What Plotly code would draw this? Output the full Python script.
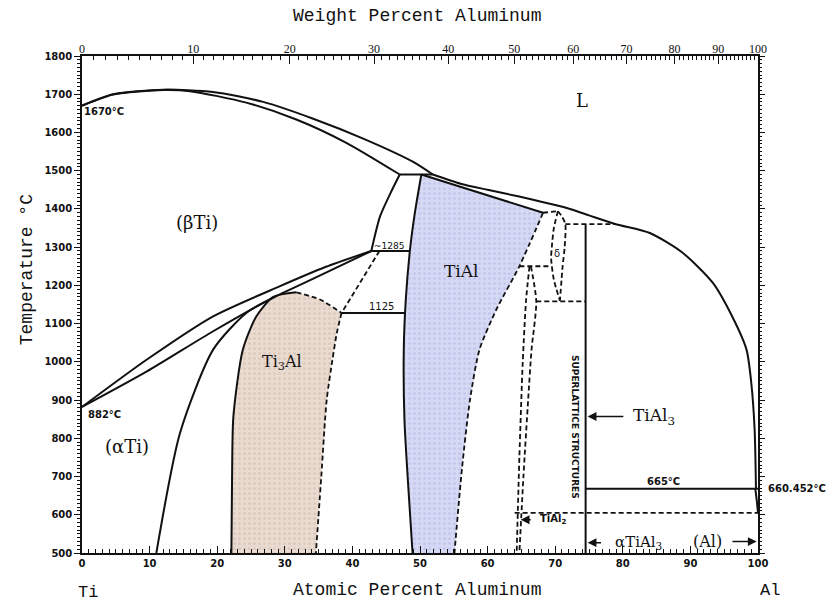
import plotly.graph_objects as go

# ---------------- data (atomic % Al, temperature °C) ----------------
liq_left_x = [0, 4.6, 12, 19.4, 26.8, 34.2, 41.6, 49.0, 51.9]
liq_left_t = [1670, 1700, 1712, 1706, 1680, 1636, 1584, 1523, 1490]

beta_sol_x = [0, 4.6, 12, 16, 24.3, 31.7, 39.1, 47.0]
beta_sol_t = [1670, 1699, 1711, 1708, 1678, 1634, 1573, 1490]

peri1490_x = [47.0, 51.9]
peri1490_t = [1490, 1490]

beta_bnd_x = [47.0, 45.6, 44.1, 42.8]
beta_bnd_t = [1490, 1440, 1381, 1290]

tial_left_x = [50.2, 49.2, 48.5, 47.9, 47.6, 47.7, 48.2, 48.9]
tial_left_t = [1490, 1385, 1290, 1163, 1032, 849, 692, 500]

tial_top_x = [50.2, 68.2]
tial_top_t = [1490, 1390]

tial_right_x = [68.2, 64.7, 61.3, 58.8, 57.4, 56.2, 55.1]
tial_right_t = [1390, 1250, 1137, 1032, 901, 719, 500]

liq_right_x = [51.9, 56, 60, 64.5, 68.4, 71.6, 75, 79, 84, 88.8, 93.3, 96.2, 98.3, 99.0, 99.5, 99.7]
liq_right_t = [1490, 1466, 1450, 1433, 1417, 1403, 1383, 1360, 1337, 1286, 1207, 1118, 1032, 946, 823, 668]

beta_transus_x = [0, 9.6, 19.4, 29.3, 36.0, 42.8]
beta_transus_t = [882, 1006, 1119, 1198, 1248, 1290]

alpha_transus_x = [0, 9.6, 19.4, 28.3, 35.0, 42.8]
alpha_transus_t = [882, 975, 1080, 1168, 1224, 1290]

alpha2_bnd_x = [11.0, 14.5, 19.4, 24.3, 28.3]
alpha2_bnd_t = [500, 814, 1032, 1128, 1168]

ti3al_left_x = [22.1, 22.2, 22.4, 23.8, 25.8, 28.3, 31.7]
ti3al_left_t = [500, 700, 858, 1032, 1119, 1170, 1182]

ti3al_top_x = [31.7, 35.2, 38.4]
ti3al_top_t = [1182, 1163, 1128]

ti3al_right_x = [38.4, 37.7, 37.0, 36.2, 35.4, 34.6]
ti3al_right_t = [1128, 1076, 1000, 901, 700, 500]

eut_dash_x = [44.0, 38.4]
eut_dash_t = [1290, 1128]

line1125_x = [38.4, 47.7]
line1125_t = [1128, 1128]

line1285_x = [42.8, 48.5]
line1285_t = [1290, 1290]

line1390_x = [68.2, 70.4]
line1390_t = [1390, 1394]

delta_left_x = [70.4, 69.8, 69.5, 69.4, 69.8, 70.7]
delta_left_t = [1394, 1350, 1300, 1270, 1215, 1160]

delta_right_x = [70.4, 71.0, 71.5, 71.4, 71.1, 70.7]
delta_right_t = [1394, 1380, 1360, 1300, 1250, 1160]

line1360_x = [71.5, 79.0]
line1360_t = [1360, 1360]

line1250_x = [64.7, 69.4]
line1250_t = [1250, 1250]

tial2_left_x = [66.2, 65.7, 65.2, 64.7, 64.3]
tial2_left_t = [1250, 1163, 1000, 750, 500]

tial2_right_x = [66.4, 67.2, 66.5, 66.0, 65.3, 64.7]
tial2_right_t = [1250, 1158, 1032, 901, 700, 500]

line1158_x = [67.2, 74.5]
line1158_t = [1158, 1158]

tial3_x = [74.5, 74.5]
tial3_t = [1360, 500]

line665_x = [74.5, 100]
line665_t = [668, 668]

line605_x = [64.0, 100]
line605_t = [605, 605]

al_solvus_x = [99.6, 99.8, 100]
al_solvus_t = [668, 640, 605]

at_ticks = list(range(0, 101, 10))
wt_ticks = [0, 10, 20, 30, 40, 50, 60, 70, 80, 90, 100]
wt_minor = [w for w in range(1, 100) if w % 10 != 0]

M_AL, M_TI = 26.98, 47.87


def wt_to_at(w):
    a = w / M_AL
    b = (100 - w) / M_TI
    return 100 * a / (a + b)


fig = go.Figure()

INK = "#111111"
DASH = "5px,3px"

# ---------- shaded single-phase fields ----------
tial_poly_x = tial_left_x + tial_right_x[::-1] + [tial_left_x[0]]
tial_poly_t = tial_left_t + tial_right_t[::-1] + [tial_left_t[0]]
fig.add_trace(go.Scatter(x=tial_poly_x, y=tial_poly_t, mode="lines", fill="toself",
                         fillcolor="#d3d6f3", line=dict(width=0),
                         hoverinfo="skip",
                         fillpattern=dict(shape=".", fgcolor="#b4b8e6", bgcolor="#d6d9f4",
                                          size=5, solidity=0.3),
                         showlegend=False))

ti3_poly_x = ti3al_left_x + ti3al_top_x[1:] + ti3al_right_x[1:] + [ti3al_left_x[0]]
ti3_poly_t = ti3al_left_t + ti3al_top_t[1:] + ti3al_right_t[1:] + [ti3al_left_t[0]]
fig.add_trace(go.Scatter(x=ti3_poly_x, y=ti3_poly_t, mode="lines", fill="toself",
                         fillcolor="#e6d4c8", line=dict(width=0),
                         hoverinfo="skip",
                         fillpattern=dict(shape=".", fgcolor="#d2b8a8", bgcolor="#eadbd1",
                                          size=5, solidity=0.3),
                         showlegend=False))


def add_line(x, t, dash="solid", width=2.0):
    fig.add_trace(go.Scatter(x=x, y=t, mode="lines",
                             line=dict(color=INK, width=width, dash=dash,
                                       shape="spline", smoothing=0.7),
                             hoverinfo="skip", showlegend=False, cliponaxis=False))


solid = [
    (liq_left_x, liq_left_t), (beta_sol_x, beta_sol_t), (peri1490_x, peri1490_t),
    (beta_bnd_x, beta_bnd_t), (tial_left_x, tial_left_t), (tial_top_x, tial_top_t),
    (liq_right_x, liq_right_t), (beta_transus_x, beta_transus_t),
    (alpha_transus_x, alpha_transus_t), (alpha2_bnd_x, alpha2_bnd_t),
    (ti3al_left_x, ti3al_left_t), (line1125_x, line1125_t), (line1285_x, line1285_t),
    (tial3_x, tial3_t), (line665_x, line665_t), (al_solvus_x, al_solvus_t),
]
for x, t in solid:
    add_line(x, t)

dashed = [
    (ti3al_top_x, ti3al_top_t), (ti3al_right_x, ti3al_right_t), (eut_dash_x, eut_dash_t),
    (tial_right_x, tial_right_t), (line1390_x, line1390_t), (delta_left_x, delta_left_t),
    (delta_right_x, delta_right_t), (line1360_x, line1360_t), (line1250_x, line1250_t),
    (tial2_left_x, tial2_left_t), (tial2_right_x, tial2_right_t), (line1158_x, line1158_t),
    (line605_x, line605_t),
]
for x, t in dashed:
    add_line(x, t, dash=DASH, width=1.8)

# dummy traces so the extra axes render
fig.add_trace(go.Scatter(x=[0, 100], y=[500, 500], xaxis="x2", mode="markers",
                         marker=dict(opacity=0), hoverinfo="skip", showlegend=False))
fig.add_trace(go.Scatter(x=[0, 100], y=[500, 500], xaxis="x3", mode="markers",
                         marker=dict(opacity=0), hoverinfo="skip", showlegend=False))
fig.add_trace(go.Scatter(x=[0, 100], y=[500, 500], yaxis="y2", mode="markers",
                         marker=dict(opacity=0), hoverinfo="skip", showlegend=False))

SERIF = "DejaVu Serif"
MONO = "Liberation Mono"
SANS = "DejaVu Sans"

ann = []


def label(x, y, text, size, family=SERIF, xref="x", yref="y", **kw):
    d = dict(x=x, y=y, xref=xref, yref=yref, text=text, showarrow=False,
             xanchor="center", yanchor="middle",
             font=dict(family=family, size=size, color=INK))
    d.update(kw)
    ann.append(d)


# phase labels
label(73.9, 1683, "L", 18)
label(17.0, 1364, "(\u03b2Ti)", 18)
label(6.6, 779, "(\u03b1Ti)", 18)
label(56.2, 1237, "TiAl", 17)
label(29.6, 998, "Ti<sub>3</sub>Al", 16)
label(84.6, 857, "TiAl<sub>3</sub>", 17)
label(82.3, 527, "\u03b1TiAl<sub>3</sub>", 15)
label(92.6, 530, "(Al)", 16)
label(70.2, 1283, "\u03b4", 10, family=SANS)
label(69.6, 587, "<b>TiAl<sub>2</sub></b>", 10, family=SANS)
label(72.9, 830, "<b>SUPERLATTICE STRUCTURES</b>", 9, family=SANS, textangle=90)

# temperature notes
label(3.3, 1654, "<b>1670\u00b0C</b>", 10, family=SANS)
label(3.3, 862, "<b>882\u00b0C</b>", 10, family=SANS)
label(45.4, 1303, "~1285", 9, family=SANS)
label(44.3, 1146, "1125", 10, family=SANS)
label(86.0, 686, "<b>665\u00b0C</b>", 10, family=SANS)
label(1.012, 668, "<b>660.452\u00b0C</b>", 10, family=SANS, xref="paper", xanchor="left")


# arrows
def arrow(x_head, y_head, x_tail, y_tail):
    ann.append(dict(x=x_head, y=y_head, ax=x_tail, ay=y_tail, xref="x", yref="y",
                    axref="x", ayref="y", text="", showarrow=True, arrowhead=2,
                    arrowsize=1.1, arrowwidth=1.6, arrowcolor=INK))


arrow(74.8, 857, 80.3, 857)
arrow(74.8, 527, 77.0, 527)
arrow(99.8, 530, 96.0, 530)
arrow(64.9, 587, 66.6, 587)

# axis titles / end labels
label(0.496, -0.074, "Atomic Percent Aluminum", 18, family=MONO, xref="paper", yref="paper")
label(0.496, 1.08, "Weight Percent Aluminum", 18, family=MONO, xref="paper", yref="paper")
label(-0.082, 0.57, "Temperature \u00b0C", 18, family=MONO, xref="paper", yref="paper",
      textangle=-90)
label(0.009, -0.08, "Ti", 17, family=MONO, xref="paper", yref="paper")
label(1.018, -0.076, "Al", 17, family=MONO, xref="paper", yref="paper")

tick_font = dict(family=SANS, size=10, color=INK, weight="bold")

fig.update_layout(
    width=835, height=601,
    margin=dict(l=82, r=77, t=56, b=48),
    paper_bgcolor="white", plot_bgcolor="white",
    annotations=ann,
    xaxis=dict(range=[0, 100], tickvals=at_ticks, ticks="inside", ticklen=7, tickwidth=1.2,
               tickcolor=INK, showline=True, linecolor=INK, linewidth=1.5, mirror=True,
               showgrid=False, zeroline=False, tickfont=tick_font,
               minor=dict(dtick=1, ticks="inside", ticklen=4, tickcolor=INK, tickwidth=1)),
    yaxis=dict(range=[500, 1800], dtick=100, ticks="outside", ticklen=6, tickwidth=1.2,
               tickcolor=INK, showline=True, linecolor=INK, linewidth=1.5, mirror=True,
               showgrid=False, zeroline=False, tickfont=tick_font,
               minor=dict(dtick=10, ticks="outside", ticklen=3, tickcolor=INK, tickwidth=1)),
    yaxis2=dict(overlaying="y", side="right", anchor="x", range=[500, 1800], dtick=100,
                ticks="outside", ticklen=6, tickwidth=1.2, tickcolor=INK,
                showticklabels=False, showline=False, showgrid=False, zeroline=False,
                minor=dict(dtick=10, ticks="outside", ticklen=3, tickcolor=INK, tickwidth=1)),
    xaxis2=dict(overlaying="x", side="top", anchor="y", range=[0, 100],
                tickvals=[wt_to_at(w) for w in wt_ticks], ticktext=[str(w) for w in wt_ticks],
                ticks="inside", ticklen=8, tickwidth=1.2, tickcolor=INK, showline=False,
                showgrid=False, zeroline=False,
                tickfont=dict(family="Liberation Sans Narrow", size=12, color=INK)),
    xaxis3=dict(overlaying="x", side="top", anchor="y", range=[0, 100],
                tickvals=[wt_to_at(w) for w in wt_minor], ticks="inside", ticklen=4,
                tickwidth=1, tickcolor=INK, showticklabels=False, showline=False,
                showgrid=False, zeroline=False),
)

fig.write_html("out.html")
